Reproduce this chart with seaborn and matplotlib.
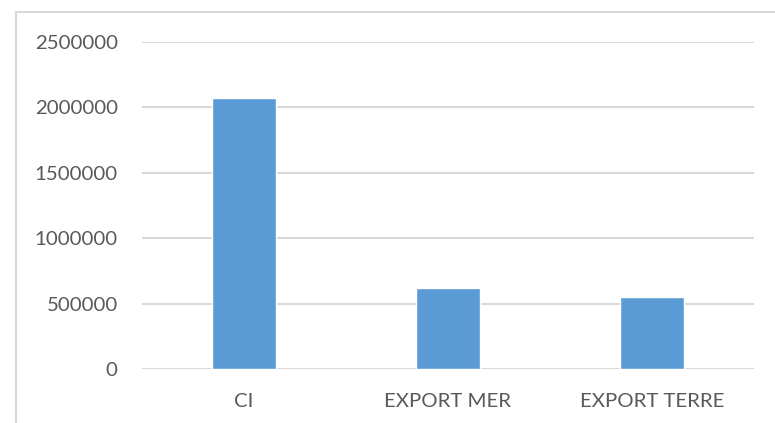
import matplotlib
matplotlib.use("Agg")
import matplotlib.pyplot as plt
import seaborn as sns
import pandas as pd
from matplotlib.patches import Rectangle

categories = ["CI", "EXPORT MER", "EXPORT TERRE"]
values = [2074000, 623000, 554000]
yticks = [0, 500000, 1000000, 1500000, 2000000, 2500000]

sns.set_theme(style="white")
plt.rcParams['font.family'] = ['Lato', 'DejaVu Sans']

W, H = 775, 423
fig = plt.figure(figsize=(W / 100, H / 100), dpi=100)
ax = fig.add_axes([142 / W, 1 - 369 / H, (754 - 142) / W, (369 - 42) / H])

df = pd.DataFrame({"cat": categories, "val": values})
sns.barplot(data=df, x="cat", y="val", color="#5b9bd5", saturation=1, width=0.31, ax=ax, zorder=3)

ax.set_ylim(0, 2500000)
ax.set_xlim(-0.5, 2.5)
ax.set_yticks(yticks)
ax.set_yticklabels([str(v) for v in yticks])
ax.set_xlabel("")
ax.set_ylabel("")
ax.grid(axis="y", color="#d9d9d9", linewidth=1.5, zorder=0)
ax.set_axisbelow(True)
for s in ax.spines.values():
    s.set_visible(False)
ax.tick_params(axis="both", length=0, labelsize=14.7, colors="#595959")
ax.tick_params(axis="y", pad=17.5)
ax.tick_params(axis="x", pad=17)

fig.patches.append(Rectangle((16 / W, -0.1), 2, 1 - 12.5 / H + 0.1, transform=fig.transFigure,
                             fill=False, edgecolor="#d9d9d9", linewidth=1.5, figure=fig))

fig.savefig("out.png", dpi=100)
